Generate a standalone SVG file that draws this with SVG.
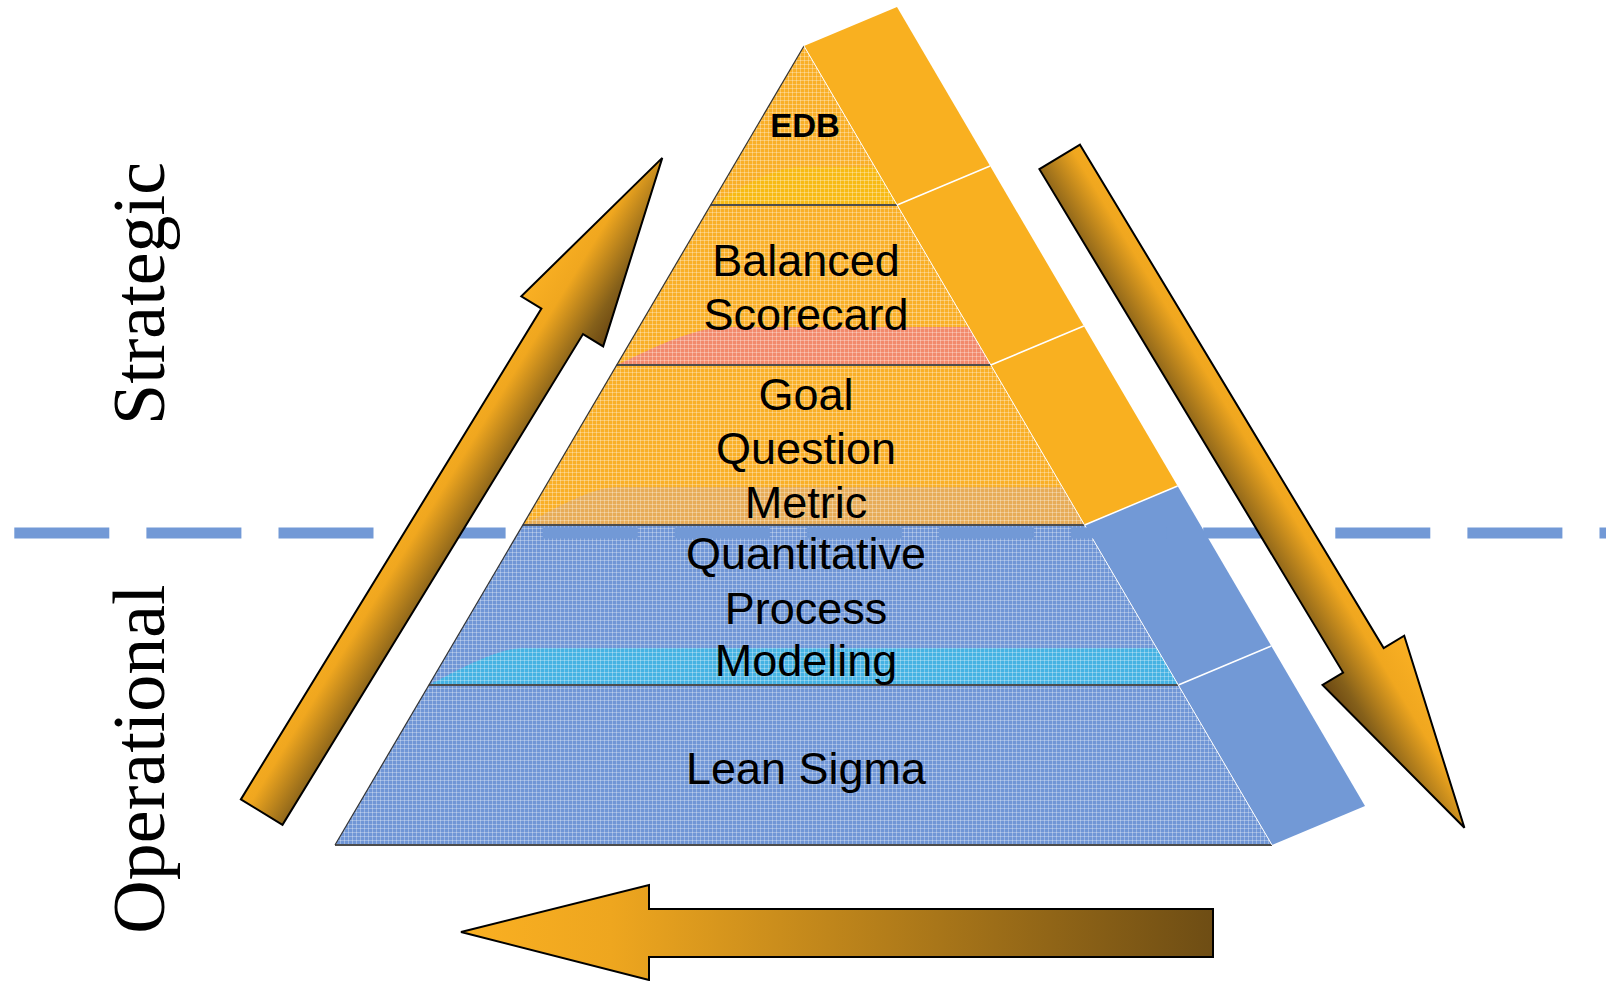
<svg xmlns="http://www.w3.org/2000/svg" width="1606" height="981" viewBox="0 0 1606 981">
<style>
.lbl{font-family:"Liberation Sans",Arial,sans-serif;font-size:45px;fill:#000;text-anchor:middle}
.side{font-family:"Liberation Serif","Times New Roman",serif;font-size:74px;fill:#000;text-anchor:middle}
.edb{font-family:"Liberation Sans",Arial,sans-serif;font-size:33px;font-weight:bold;fill:#000;text-anchor:middle}
.or{fill:#F9AF27}
.bl{fill:#7096D6}
.sor{fill:#F9B020}
.sbl{fill:#7299D6}
.div{stroke:#fff;stroke-width:1.5;fill:none}
.bound{stroke:#4d4d4d;stroke-width:2;fill:none}
.arrow{stroke:#000;stroke-width:2;stroke-linejoin:miter}
</style>
<defs>
<pattern id="tex" width="4" height="4" patternUnits="userSpaceOnUse">
<rect width="4" height="1" fill="#fff" fill-opacity="0.3"/>
<rect width="1" height="4" fill="#fff" fill-opacity="0.3"/>
</pattern>
<linearGradient id="gDiag" gradientUnits="userSpaceOnUse" x1="0" y1="-48" x2="0" y2="48">
<stop offset="0" stop-color="#FAB023"/>
<stop offset="0.35" stop-color="#F0A71F"/>
<stop offset="0.8" stop-color="#85601A"/>
<stop offset="1" stop-color="#6A4712"/>
</linearGradient>
<linearGradient id="gBottom" gradientUnits="userSpaceOnUse" x1="461" y1="0" x2="1213" y2="0">
<stop offset="0" stop-color="#FAB022"/>
<stop offset="0.2" stop-color="#EEA61F"/>
<stop offset="1" stop-color="#6E4D14"/>
</linearGradient>
</defs>

<rect width="1606" height="981" fill="#fff"/>

<g id="side-panel">
<polygon class="sor" points="804,46 897,7 990.1,166 897.1,205"/>
<polygon class="sor" points="897.1,205 990.1,166 1083.8,326 990.8,365"/>
<polygon class="sor" points="990.8,365 1083.8,326 1177.6,486 1084.6,525"/>
<polygon class="sbl" points="1084.6,525 1177.6,486 1271.3,646 1178.3,685"/>
<polygon class="sbl" points="1178.3,685 1271.3,646 1365,806 1272,845"/>
<path class="div" d="M897.1,205 L990.1,166 M990.8,365 L1083.8,326 M1084.6,525 L1177.6,486 M1178.3,685 L1271.3,646"/>
</g>

<g id="layer-edb">
<polygon class="or" points="804,46 897.1,205 710.7,205"/>
<path fill="#F8BA14" d="M710.7,205 C735,192 768,168 800,167 L874.9,167 L897.1,205 Z"/>
</g>
<g id="layer-bsc">
<polygon class="or" points="710.7,205 897.1,205 990.8,365 616.7,365"/>
<path fill="#F28A6C" d="M616.7,365 C645,352 690,328 725,327 L968.6,327 L990.8,365 Z"/>
</g>
<g id="layer-gqm">
<polygon class="or" points="616.7,365 990.8,365 1084.6,525 522.8,525"/>
<path fill="#E7AC58" d="M522.8,525 C550,512 588,488 615,487 L1062.3,487 L1084.6,525 Z"/>
</g>
<g id="layer-qpm">
<polygon class="bl" points="522.8,525 1084.6,525 1178.3,685 428.9,685"/>
<path fill="#45B2E3" d="M428.9,685 C455,672 495,649 522,648 L1156.6,648 L1178.3,685 Z"/>
</g>
<g id="layer-lean">
<polygon class="bl" points="428.9,685 1178.3,685 1272,845 335,845"/>
</g>

<g id="texture">
<polygon fill="url(#tex)" points="804,46 1272,845 335,845"/>
<path class="bound" d="M710.7,205 H897.1 M616.7,365 H990.8 M522.8,525 H1084.6 M428.9,685 H1178.3 M335,845 H1272"/>
<line x1="804" y1="46" x2="335" y2="845" stroke="#333" stroke-width="1.2"/>
<line x1="804" y1="46" x2="1272" y2="845" stroke="#fff" stroke-width="1"/>
</g>

<g id="divider">
<line x1="14.3" y1="533" x2="1606" y2="533" stroke="#7299D6" stroke-width="11" stroke-dasharray="95 37.1"/>
</g>

<g id="labels">
<text class="edb" x="805" y="137">EDB</text>
<text class="lbl" x="806" y="276">Balanced</text>
<text class="lbl" x="806" y="330">Scorecard</text>
<text class="lbl" x="806" y="410">Goal</text>
<text class="lbl" x="806" y="464">Question</text>
<text class="lbl" x="806" y="518">Metric</text>
<text class="lbl" x="806" y="569">Quantitative</text>
<text class="lbl" x="806" y="624">Process</text>
<text class="lbl" x="806" y="676">Modeling</text>
<text class="lbl" x="806" y="784">Lean Sigma</text>
</g>

<g id="label-strategic">
<text class="side" transform="translate(164,293.5) rotate(-90)">Strategic</text>
</g>
<g id="label-operational">
<text class="side" transform="translate(164,759) rotate(-90)">Operational</text>
</g>

<g id="connectors">
<polygon class="arrow" fill="url(#gDiag)" transform="translate(261.7,812.1) rotate(-58.52)" points="0,-24.4 575.5,-24.4 575.5,-48 767.1,0 575.5,48 575.5,24.4 0,24.4"/>
<polygon class="arrow" fill="url(#gDiag)" transform="translate(1059.7,156.9) rotate(58.9)" points="0,-23.7 587.9,-23.7 587.9,-47.7 783.5,0 587.9,47.7 587.9,23.7 0,23.7"/>
<polygon class="arrow" fill="url(#gBottom)" points="461,932 649,885 649,909 1213,909 1213,957 649,957 649,980"/>
</g>
</svg>
